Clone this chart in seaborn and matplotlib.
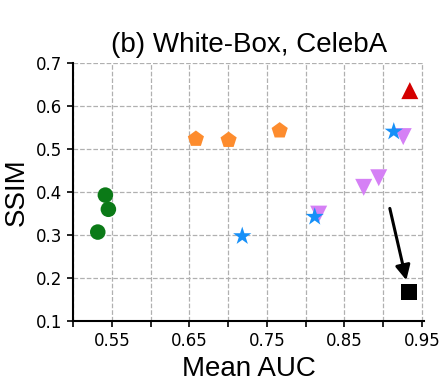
import matplotlib
matplotlib.use("Agg")
import matplotlib.pyplot as plt
import seaborn as sns
import pandas as pd

# values
green_auc = [0.5417, 0.5456, 0.5319]
green_ssim = [0.393, 0.360, 0.307]
orange_auc = [0.6585, 0.7007, 0.7666]
orange_ssim = [0.5235, 0.521, 0.543]
violet_auc = [0.926, 0.8944, 0.875, 0.8169]
violet_ssim = [0.529, 0.4333, 0.411, 0.3487]
blue_auc = [0.9138, 0.7183, 0.8118]
blue_ssim = [0.5406, 0.2974, 0.3424]
red_auc = [0.9345]
red_ssim = [0.636]
black_auc = [0.9332]
black_ssim = [0.1676]

xticks = [0.50, 0.55, 0.60, 0.65, 0.70, 0.75, 0.80, 0.85, 0.90, 0.95]
xtick_labels = ["", "0.55", "", "0.65", "", "0.75", "", "0.85", "", "0.95"]
yticks = [0.1, 0.2, 0.3, 0.4, 0.5, 0.6, 0.7]

sns.set_style("ticks")
plt.rcParams['font.family'] = ['DejaVu Sans']
plt.rcParams['text.color'] = 'black'
plt.rcParams['xtick.color'] = 'black'
plt.rcParams['ytick.color'] = 'black'
plt.rcParams['axes.labelcolor'] = 'black'

fig, ax = plt.subplots(figsize=(4.4, 3.92), dpi=100)
fig.subplots_adjust(left=0.166, right=0.964, bottom=0.181, top=0.839)

groups = [
    (green_auc, green_ssim, 'o', '#0b7a17', 125),
    (orange_auc, orange_ssim, 'p', '#fd8c2e', 150),
    (violet_auc, violet_ssim, 'v', '#d580f5', 150),
    (blue_auc, blue_ssim, '*', '#1690f8', 190),
    (red_auc, red_ssim, '^', '#d40000', 150),
    (black_auc, black_ssim, 's', 'black', 125),
]
for xs, ys, mk, col, size in groups:
    df = pd.DataFrame({'auc': xs, 'ssim': ys})
    sns.scatterplot(data=df, x='auc', y='ssim', marker=mk, color=col, s=size,
                    edgecolor='none', ax=ax, zorder=3)

# arrow pointing at the black square
ax.annotate('', xy=(0.930, 0.195), xytext=(0.9087, 0.362),
            arrowprops=dict(arrowstyle='-|>', color='black', lw=2.2,
                            mutation_scale=22, shrinkA=0, shrinkB=0), zorder=4)

ax.set_xlim(0.5, 0.953)
ax.set_ylim(0.1, 0.7)
ax.set_xticks(xticks)
ax.set_xticklabels(xtick_labels)
ax.set_yticks(yticks)
ax.tick_params(labelsize=12, length=4.5, width=1.2, color='black', labelcolor='black')
ax.grid(True, linestyle='--', color='#b0b0b0', linewidth=0.9)
ax.set_axisbelow(True)
sns.despine(ax=ax)
for sp in ['left', 'bottom']:
    ax.spines[sp].set_color('black')
    ax.spines[sp].set_linewidth(1.5)

lab_font = ['Liberation Sans', 'DejaVu Sans']
ax.set_title('(b) White-Box, CelebA', fontsize=20, pad=8, family=lab_font, color='black')
ax.set_xlabel('Mean AUC', fontsize=20, family=lab_font, color='black')
ax.set_ylabel('SSIM', fontsize=20, family=lab_font, color='black')

fig.savefig('out.png', dpi=100)
